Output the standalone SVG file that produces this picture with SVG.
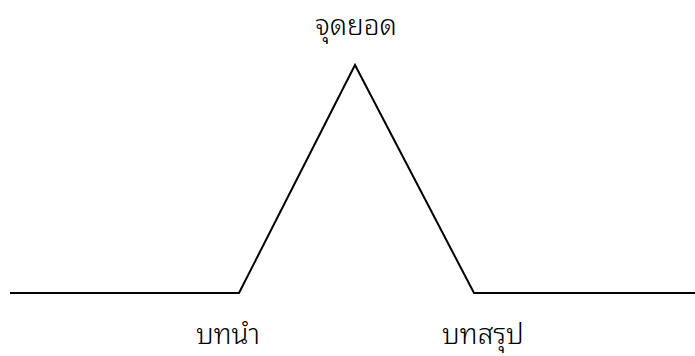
<svg xmlns="http://www.w3.org/2000/svg" width="695" height="356" viewBox="0 0 695 356">
<style>
.lbl{font-family:"Noto Sans Thai Looped","Noto Serif Thai","Noto Sans Thai","Noto Sans","DejaVu Sans",sans-serif;font-size:28px;font-weight:300;fill:#000;text-anchor:middle}
.ln{fill:none;stroke:#000;stroke-width:2}
</style>
<rect width="695" height="356" fill="#fff"/>
<g id="connectors">
<polyline class="ln" points="10,293 239,293 355,65 474,293 695,293"/>
</g>
<g id="peak"><text class="lbl" x="356" y="35">จุดยอด</text></g>
<g id="intro"><text class="lbl" x="228" y="344">บทนำ</text></g>
<g id="conclusion"><text class="lbl" x="483" y="344">บทสรุป</text></g>
</svg>
